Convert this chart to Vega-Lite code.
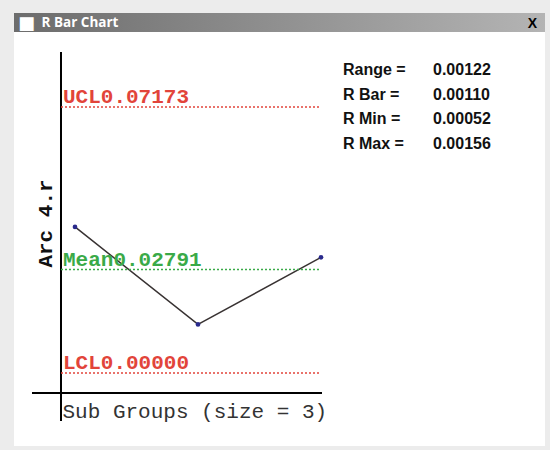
{
  "$schema": "https://vega.github.io/schema/vega-lite/v6.json",
  "background": "#ececec",
  "padding": {"left": 14, "top": 13, "right": 5, "bottom": 4},
  "spacing": 0,
  "bounds": "flush",
  "config": {"view": {"stroke": null}},
  "vconcat": [
    {
      "width": 531,
      "height": 19,
      "view": {"fill": {"gradient": "linear", "x1": 0, "y1": 0, "x2": 1, "y2": 0, "stops": [{"offset": 0, "color": "#6c6c6c"}, {"offset": 1, "color": "#b4b4b4"}]}, "stroke": null},
      "data": {"values": [{"caption": "R Bar Chart", "icon": "■", "close": "X"}]},
      "layer": [
        {
          "mark": {"type": "text", "align": "center", "baseline": "middle", "dx": -253, "dy": 1, "color": "#ffffff", "font": "DejaVu Sans", "fontSize": 18},
          "encoding": {"text": {"field": "icon", "type": "nominal"}}
        },
        {
          "mark": {"type": "text", "align": "center", "baseline": "middle", "dx": 253, "dy": 1, "color": "#000000", "font": "Liberation Sans", "fontWeight": "bold", "fontSize": 14},
          "encoding": {"text": {"field": "close", "type": "nominal"}}
        },
        {
          "mark": {"type": "text", "align": "left", "baseline": "middle", "dx": -238, "color": "white", "font": "Open Sans", "fontWeight": "bold", "fontSize": 13.5},
          "encoding": {"text": {"field": "caption", "type": "nominal"}}
        }
      ]
    },
    {
      "width": 531,
      "height": 414,
      "view": {"fill": "white", "stroke": null},
      "resolve": {"scale": {"y": "independent"}},
      "layer": [
        {
          "layer": [
            {
              "data": {"values": [{"subgroup": 1, "r": 0.0394}, {"subgroup": 2, "r": 0.0131}, {"subgroup": 3, "r": 0.0312}]},
              "mark": {"type": "line", "color": "#383232", "strokeWidth": 1.5},
              "encoding": {
                "x": {"field": "subgroup", "type": "quantitative", "scale": {"domain": [0.50407, 4.82114], "nice": false, "zero": false},
                  "axis": {"orient": "bottom", "offset": -53, "domain": false, "ticks": false, "labels": false, "grid": false, "title": "Sub Groups (size = 3)", "titleFont": "Liberation Mono", "titleFontSize": 21, "titleFontWeight": "normal", "titleColor": "#333333", "titlePadding": 7, "titleAnchor": "start", "titleAlign": "left", "titleX": 48}},
                "y": {"field": "r", "type": "quantitative", "scale": {"domain": [-0.019685, 0.091955], "nice": false, "zero": false},
                  "axis": {"orient": "left", "offset": -47, "domain": false, "ticks": false, "labels": false, "grid": false, "title": "Arc 4.r", "titleFont": "Liberation Mono", "titleFontSize": 21, "titleFontWeight": "bold", "titleColor": "#111111", "titlePadding": 6, "titleY": 191}}
              }
            },
            {
              "data": {"values": [{"subgroup": 1, "r": 0.0394}, {"subgroup": 2, "r": 0.0131}, {"subgroup": 3, "r": 0.0312}]},
              "mark": {"type": "point", "filled": true, "color": "#2a2a8c", "size": 22, "opacity": 1},
              "encoding": {
                "x": {"field": "subgroup", "type": "quantitative"},
                "y": {"field": "r", "type": "quantitative"}
              }
            },
            {
              "data": {"values": [{"axisline": "vertical"}]},
              "mark": {"type": "rule", "color": "#000000", "strokeWidth": 2},
              "encoding": {
                "x": {"datum": 0.88618, "type": "quantitative"},
                "y": {"datum": 0.08656, "type": "quantitative"},
                "y2": {"datum": -0.012944}
              }
            },
            {
              "data": {"values": [{"axisline": "horizontal"}]},
              "mark": {"type": "rule", "color": "#000000", "strokeWidth": 2},
              "encoding": {
                "x": {"datum": 0.65041, "type": "quantitative"},
                "x2": {"datum": 3.00813},
                "y": {"datum": -0.005393, "type": "quantitative"}
              }
            },
            {
              "data": {"values": [{"limit": "UCL", "value": 0.07173, "label": "UCL0.07173"}, {"limit": "Mean", "value": 0.02791, "label": "Mean0.02791"}, {"limit": "LCL", "value": 0.0, "label": "LCL0.00000"}]},
              "layer": [
                {
                  "mark": {"type": "rule", "strokeDash": [2, 2], "strokeWidth": 1.5},
                  "encoding": {
                    "x": {"datum": 0.88618, "type": "quantitative"},
                    "x2": {"datum": 2.99187},
                    "y": {"field": "value", "type": "quantitative"},
                    "color": {"field": "limit", "type": "nominal", "scale": {"domain": ["UCL", "Mean", "LCL"], "range": ["#e2443a", "#3aaa48", "#e2443a"]}, "legend": null}
                  }
                },
                {
                  "mark": {"type": "text", "align": "left", "baseline": "alphabetic", "dx": 2, "dy": -4, "font": "Liberation Mono", "fontSize": 21, "fontWeight": "bold"},
                  "encoding": {
                    "x": {"datum": 0.88618, "type": "quantitative"},
                    "y": {"field": "value", "type": "quantitative"},
                    "text": {"field": "label", "type": "nominal"},
                    "color": {"field": "limit", "type": "nominal", "legend": null}
                  }
                }
              ]
            }
          ]
        },
        {
          "data": {"values": [{"stat": "Range =", "value": "0.00122"}, {"stat": "R Bar =", "value": "0.00110"}, {"stat": "R Min =", "value": "0.00052"}, {"stat": "R Max =", "value": "0.00156"}]},
          "encoding": {
            "y": {"field": "stat", "type": "ordinal", "sort": ["Range =", "R Bar =", "R Min =", "R Max ="], "scale": {"type": "point", "range": [43, 117], "padding": 0}, "axis": null}
          },
          "layer": [
            {
              "mark": {"type": "text", "align": "left", "baseline": "alphabetic", "font": "Liberation Sans", "fontSize": 16, "fontWeight": "bold", "color": "#111111"},
              "encoding": {"x": {"datum": 3.17886, "type": "quantitative"}, "text": {"field": "stat", "type": "nominal"}}
            },
            {
              "mark": {"type": "text", "align": "left", "baseline": "alphabetic", "font": "Liberation Sans", "fontSize": 16, "fontWeight": "bold", "color": "#111111"},
              "encoding": {"x": {"datum": 3.91057, "type": "quantitative"}, "text": {"field": "value", "type": "nominal"}}
            }
          ]
        }
      ]
    }
  ]
}
